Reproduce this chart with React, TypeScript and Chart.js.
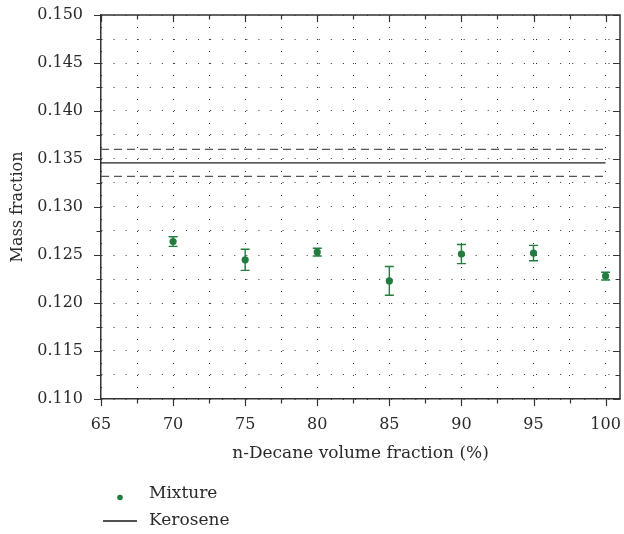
import React, { useEffect, useRef } from 'react';
import { Chart, registerables } from 'chart.js';

Chart.register(...registerables);

// ---- data ----
const nDecaneFraction = [70, 75, 80, 85, 90, 95, 100];
const mixtureMassFraction = [0.1264, 0.1245, 0.1253, 0.1223, 0.1251, 0.1252, 0.1228];
const mixtureError = [0.0005, 0.0011, 0.0004, 0.0015, 0.0010, 0.0008, 0.0004];

const keroseneRange = [65, 100];
const keroseneMean = 0.1346;
const keroseneUpper = 0.1360;
const keroseneLower = 0.1332;

const xTickValues = [65, 67.5, 70, 72.5, 75, 77.5, 80, 82.5, 85, 87.5, 90, 92.5, 95, 97.5, 100];
const xMajorTicks = [65, 70, 75, 80, 85, 90, 95, 100];
const yTickValues = [0.110, 0.1125, 0.115, 0.1175, 0.120, 0.1225, 0.125, 0.1275, 0.130, 0.1325, 0.135, 0.1375, 0.140, 0.1425, 0.145, 0.1475, 0.150];
const yMajorTicks = [0.110, 0.115, 0.120, 0.125, 0.130, 0.135, 0.140, 0.145, 0.150];

const GREEN = '#227d3e';
const INK = '#2a2a2a';
const FONT = '"DejaVu Serif", serif';

const isIn = (arr: number[], v: number) => arr.some((a) => Math.abs(a - v) < 1e-9);

const zeroPadding = (s: any) => {
  s.paddingTop = 0;
  s.paddingBottom = 0;
  s.paddingLeft = 0;
  s.paddingRight = 0;
};

const errorBarPlugin = {
  id: 'errorBars',
  afterDatasetsDraw(chart: any) {
    const { ctx, scales } = chart;
    const x = scales.x;
    const y = scales.y;
    ctx.save();
    ctx.strokeStyle = GREEN;
    ctx.lineWidth = 1.4;
    nDecaneFraction.forEach((xv, i) => {
      const px = x.getPixelForValue(xv);
      const pTop = y.getPixelForValue(mixtureMassFraction[i] + mixtureError[i]);
      const pBot = y.getPixelForValue(mixtureMassFraction[i] - mixtureError[i]);
      ctx.beginPath();
      ctx.moveTo(px, pTop);
      ctx.lineTo(px, pBot);
      ctx.moveTo(px - 4.5, pTop);
      ctx.lineTo(px + 4.5, pTop);
      ctx.moveTo(px - 4.5, pBot);
      ctx.lineTo(px + 4.5, pBot);
      ctx.stroke();
    });
    ctx.restore();
  },
};

const frameAndLegendPlugin = {
  id: 'frameAndLegend',
  afterDraw(chart: any) {
    const { ctx, chartArea, scales } = chart;
    const { left, right, top, bottom } = chartArea;
    const x = scales.x;
    const y = scales.y;
    ctx.save();
    ctx.strokeStyle = '#333';
    ctx.lineWidth = 1.5;
    ctx.beginPath();
    ctx.moveTo(left, top);
    ctx.lineTo(right, top);
    ctx.lineTo(right, bottom);
    ctx.stroke();

    ctx.lineWidth = 1.2;
    ctx.beginPath();
    xTickValues.forEach((v) => {
      const px = Math.round(x.getPixelForValue(v)) + 0.5;
      const len = isIn(xMajorTicks, v) ? 7 : 4.5;
      ctx.moveTo(px, bottom);
      ctx.lineTo(px, bottom + len);
      ctx.moveTo(px, top);
      ctx.lineTo(px, top + len);
    });
    yTickValues.forEach((v) => {
      const py = Math.round(y.getPixelForValue(v)) + 0.5;
      const len = isIn(yMajorTicks, v) ? 7 : 4.5;
      ctx.moveTo(left - len, py);
      ctx.lineTo(left, py);
      ctx.moveTo(right - len, py);
      ctx.lineTo(right, py);
    });
    ctx.stroke();

    // legend
    const lx = left;
    const ly = bottom;
    ctx.fillStyle = GREEN;
    ctx.beginPath();
    ctx.arc(lx + 19, ly + 98.5, 2.8, 0, Math.PI * 2);
    ctx.fill();
    ctx.strokeStyle = '#1a1a1a';
    ctx.lineWidth = 1.3;
    ctx.beginPath();
    ctx.moveTo(lx + 2, ly + 122);
    ctx.lineTo(lx + 36, ly + 122);
    ctx.stroke();
    ctx.fillStyle = INK;
    ctx.font = '17px ' + FONT;
    ctx.textBaseline = 'middle';
    ctx.textAlign = 'left';
    ctx.fillText('Mixture', lx + 48, ly + 95);
    ctx.fillText('Kerosene', lx + 48, ly + 122);
    ctx.restore();
  },
};

export default function App() {
  const canvasRef = useRef<HTMLCanvasElement | null>(null);

  useEffect(() => {
    document.body.style.margin = '0';
    const canvas = canvasRef.current;
    if (!canvas) return;
    const chart = new Chart(canvas, {
      type: 'scatter',
      data: {
        datasets: [
          {
            label: 'Kerosene upper',
            type: 'line',
            data: keroseneRange.map((v) => ({ x: v, y: keroseneUpper })),
            borderColor: '#555',
            borderWidth: 1.3,
            borderDash: [8, 5],
            pointRadius: 0,
            fill: false,
          },
          {
            label: 'Kerosene',
            type: 'line',
            data: keroseneRange.map((v) => ({ x: v, y: keroseneMean })),
            borderColor: '#222',
            borderWidth: 1.3,
            pointRadius: 0,
            fill: false,
          },
          {
            label: 'Kerosene lower',
            type: 'line',
            data: keroseneRange.map((v) => ({ x: v, y: keroseneLower })),
            borderColor: '#555',
            borderWidth: 1.3,
            borderDash: [8, 5],
            pointRadius: 0,
            fill: false,
          },
          {
            label: 'Mixture',
            data: nDecaneFraction.map((v, i) => ({ x: v, y: mixtureMassFraction[i] })),
            backgroundColor: GREEN,
            borderColor: GREEN,
            borderWidth: 0,
            pointRadius: 3.6,
          },
        ],
      },
      options: {
        responsive: false,
        animation: false,
        devicePixelRatio: 1,
        layout: { padding: { left: 0, top: 15, right: 2, bottom: 69 } },
        plugins: { legend: { display: false }, tooltip: { enabled: false } },
        scales: {
          x: {
            type: 'linear',
            min: 65,
            max: 101,
            afterBuildTicks: (s: any) => {
              s.ticks = xTickValues.map((v) => ({ value: v }));
            },
            afterFit: (s: any) => {
              s.height = 66;
              zeroPadding(s);
            },
            ticks: {
              autoSkip: false,
              maxRotation: 0,
              padding: 16,
              color: INK,
              font: { family: FONT, size: 16 },
              callback: (v: any) => (isIn(xMajorTicks, Number(v)) ? String(v) : ''),
            },
            grid: { color: '#333', lineWidth: 1, drawTicks: false },
            border: { display: true, color: '#333', width: 1.5, dash: [1, 11] },
            title: {
              display: true,
              text: 'n-Decane volume fraction (%)',
              color: INK,
              font: { family: FONT, size: 17 },
              padding: { top: 0, bottom: 1 },
            },
          },
          y: {
            type: 'linear',
            min: 0.11,
            max: 0.15,
            afterBuildTicks: (s: any) => {
              s.ticks = yTickValues.map((v) => ({ value: v }));
            },
            afterFit: (s: any) => {
              s.width = 101;
              zeroPadding(s);
            },
            ticks: {
              autoSkip: false,
              padding: 18,
              color: INK,
              font: { family: FONT, size: 16 },
              callback: (v: any) => (isIn(yMajorTicks, Number(v)) ? Number(v).toFixed(3) : ''),
            },
            grid: { color: '#333', lineWidth: 1, drawTicks: false },
            border: { display: true, color: '#333', width: 1.5, dash: [1, 11.07] },
            title: {
              display: true,
              text: 'Mass fraction',
              color: INK,
              font: { family: FONT, size: 16 },
              padding: { top: 8, bottom: 0 },
            },
          },
        },
      },
      plugins: [errorBarPlugin, frameAndLegendPlugin],
    } as any);
    return () => chart.destroy();
  }, []);

  return (
    <div style={{ width: 624, height: 534 }}>
      <canvas ref={canvasRef} width={624} height={534} style={{ display: 'block', width: 624, height: 534 }} />
    </div>
  );
}
